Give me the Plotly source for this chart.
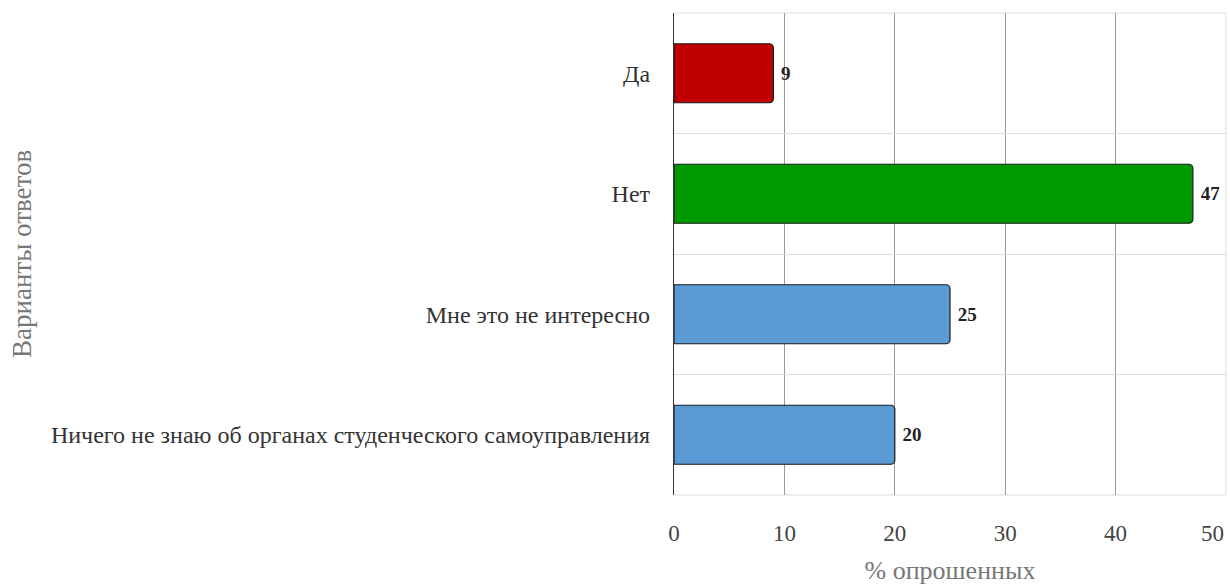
import plotly.graph_objects as go

categories = ["Да", "Нет", "Мне это не интересно", "Ничего не знаю об органах студенческого самоуправления"]
values = [9, 47, 25, 20]
colors = ["#C00000", "#009900", "#5B9BD5", "#5B9BD5"]
x_ticks = [0, 10, 20, 30, 40, 50]
x_tick_text = ["0", "10", "20", "30", "40", "50"]
x_title = "% опрошенных"
y_title = "Варианты ответов"

font_family = "Liberation Serif, Times New Roman, serif"

fig = go.Figure()
fig.add_trace(go.Bar(
    x=values,
    y=categories,
    orientation="h",
    marker=dict(color=colors, line=dict(color="#1a1a1a", width=1.2), cornerradius=4),
    width=0.49,
    text=["\u2005" + str(v) for v in values],
    textposition="outside",
    textfont=dict(family=font_family, size=19, color="#222222", weight="bold"),
    cliponaxis=False,
    showlegend=False,
    hoverinfo="skip",
))

fig.update_layout(
    width=1230, height=585,
    margin=dict(l=674, r=4, t=13, b=90, autoexpand=False),
    paper_bgcolor="white",
    plot_bgcolor="white",
    font=dict(family=font_family, color="#444444"),
    xaxis=dict(
        range=[0, 50],
        tickvals=x_ticks[:-1],
        ticktext=x_tick_text[:-1],
        automargin=False,
        showgrid=True, gridcolor="#999999", gridwidth=1,
        zeroline=False,
        showline=False,
        tickfont=dict(size=23, color="#444444"),
        ticks="",
        ticklabelstandoff=22,
        title=dict(text=x_title, font=dict(size=26, color="#777777"), standoff=15),
    ),
    yaxis=dict(
        categoryorder="array",
        categoryarray=categories,
        autorange="reversed",
        automargin=False,
        tickson="boundaries",
        showgrid=True, gridcolor="#dddddd", gridwidth=1,
        showline=True, linecolor="#333333", linewidth=1.2,
        ticks="",
        tickfont=dict(size=24, color="#333333"),
        ticklabelstandoff=18,
    ),
)

# last x tick label, right-aligned to the plot edge
fig.add_annotation(
    x=x_ticks[-1], xref="x", y=0, yref="paper",
    text=x_tick_text[-1], showarrow=False,
    xanchor="right", yanchor="middle", yshift=-38,
    font=dict(family=font_family, size=23, color="#444444"),
)

# y-axis title
fig.add_annotation(
    x=0, xref="paper", y=0.5, yref="paper",
    text=y_title, showarrow=False, textangle=-90,
    xanchor="center", yanchor="middle", xshift=-652,
    font=dict(family=font_family, size=27, color="#777777"),
)

# light border lines at top, bottom and right of plot area
fig.add_shape(type="line", xref="paper", yref="paper", x0=0, x1=1, y0=1, y1=1,
              line=dict(color="#dddddd", width=1), layer="below")
fig.add_shape(type="line", xref="paper", yref="paper", x0=0, x1=1, y0=0, y1=0,
              line=dict(color="#dddddd", width=1), layer="below")
fig.add_shape(type="line", xref="paper", yref="paper", x0=1, x1=1, y0=0, y1=1,
              line=dict(color="#dddddd", width=1), layer="below")

fig.write_html(
    "out.html",
    config={"displayModeBar": False},
    post_script="document.body.style.margin='0';document.body.style.overflow='hidden';",
)
